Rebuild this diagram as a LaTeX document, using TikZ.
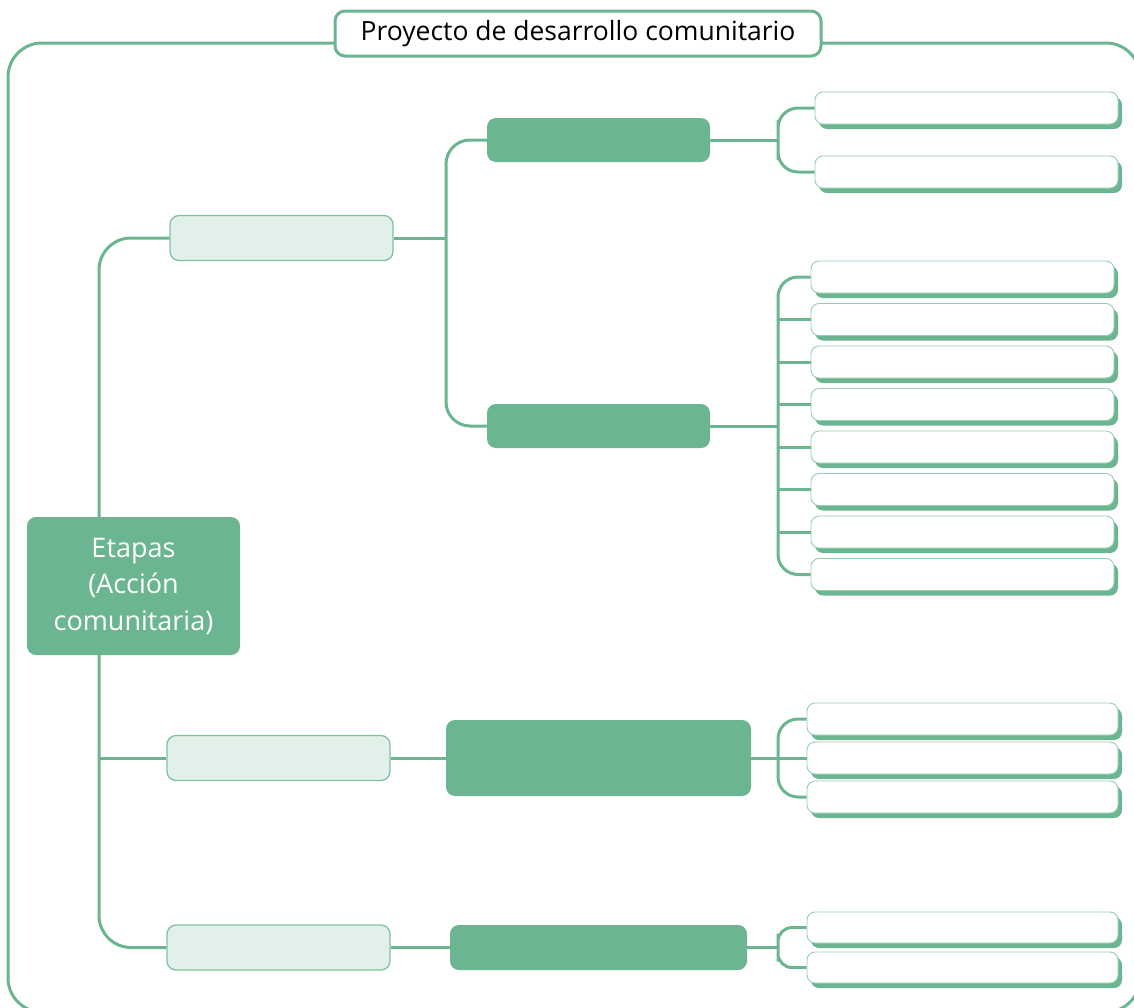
\documentclass[tikz,border=0pt]{standalone}
\usepackage{fontspec}
\setmainfont{Open Sans}
\usepackage{tikz}
\usetikzlibrary{positioning,shadows}
\definecolor{mint}{HTML}{6BB690}
\definecolor{pale}{HTML}{E1F0E8}
\definecolor{rim}{HTML}{7DC29F}

\begin{document}
\begin{tikzpicture}[x=1pt,y=-1pt,node distance=42.5pt,
                    link/.style={draw=mint,line width=3pt,rounded corners=20pt},
                    title node/.style={draw=mint,line width=3pt,fill=white,rounded corners=10pt,
                      minimum width=486pt,minimum height=45pt,font=\fontsize{26.5}{33}\selectfont},
                    root node/.style={fill=mint,rounded corners=9pt,minimum width=213pt,minimum height=138pt,
                      text=white,align=center,font=\fontsize{27}{36.5}\selectfont},
                    stage node/.style={draw=rim,line width=1.3pt,fill=pale,rounded corners=9pt,
                      minimum width=223pt,minimum height=45pt},
                    dark node/.style={fill=mint,rounded corners=9pt,minimum width=223pt,minimum height=44pt},
                    leaf node/.style={draw=rim!80,line width=0.9pt,fill=white,rounded corners=8pt,
                      minimum width=303pt,minimum height=32pt,inner sep=0pt,
                      drop shadow={shadow xshift=4pt,shadow yshift=-5pt,fill=mint,opacity=1}}]
  \useasboundingbox (0,0) rectangle (1134,1007);

  % frame and title
  \draw[draw=mint,line width=3pt,rounded corners=34pt] (8,43) rectangle (1140,1012);
  \node[title node] (title) at (578,33.5) {Proyecto de desarrollo comunitario};

  % stages
  \node[stage node] (s1) at (281.5,238) {};
  \node[stage node] (s2) at (278.5,758) {};
  \node[stage node] (s3) at (278.5,947.5) {};

  \node[dark node] (d1) at (598.5,140) {};
  \node[dark node] (d2) at (598.5,426) {};
  \node[dark node,minimum width=305pt,minimum height=76pt] (d3) at (598.5,758) {};
  \node[dark node,minimum width=297pt,minimum height=45pt] (d4) at (598.5,947.5) {};

  % leaves
  \node[leaf node] (c1) at (966.5,108) {};
  \node[leaf node] (c2) at (966.5,172) {};

  \node[leaf node] (b1) at (962.5,277) {};
  \node[leaf node] (b2) [below of=b1] {};
  \node[leaf node] (b3) [below of=b2] {};
  \node[leaf node] (b4) [below of=b3] {};
  \node[leaf node] (b5) [below of=b4] {};
  \node[leaf node] (b6) [below of=b5] {};
  \node[leaf node] (b7) [below of=b6] {};
  \node[leaf node] (b8) [below of=b7] {};

  \node[leaf node,minimum width=311pt] (e1) at (962.5,719) {};
  \node[leaf node,minimum width=311pt] (e2) [below of=e1,node distance=39pt] {};
  \node[leaf node,minimum width=311pt] (e3) [below of=e2,node distance=39pt] {};

  \node[leaf node,minimum width=311pt,minimum height=31pt] (f1) at (962.5,927.5) {};
  \node[leaf node,minimum width=311pt,minimum height=31pt] (f2) at (962.5,967.5) {};

  % junctions
  \coordinate (sp) at (99,600);
  \coordinate (j0) at (446,238);
  \coordinate (j1) at (778,140);
  \coordinate (j2) at (778,426);
  \coordinate (j3) at (778,758);
  \coordinate (j4) at (778,947.5);

  % links
  \draw[link,rounded corners=32pt] (s1.west) -| (sp) |- (s3.west);
  \draw[link] (sp |- s2.west) -- (s2.west);
  \draw[link] (s1.east) -- (j0);
  \draw[link,rounded corners=24pt] (d1.west) -| (j0) |- (d2.west);
  \draw[link] (s2.east) -- (d3.west);
  \draw[link] (s3.east) -- (d4.west);

  \draw[link] (d1.east) -- (j1);
  \draw[link] (c1.west) -| (j1) |- (c2.west);

  \draw[link] (d2.east) -- (j2);
  \draw[link] (b1.west) -| (j2) |- (b8.west);
  \foreach \n in {b2,b3,b4,b5,b6,b7}
    \draw[link] (j2 |- \n.west) -- (\n.west);

  \draw[link] (d3.east) -- (e2.west);
  \draw[link] (e1.west) -| (j3) |- (e3.west);

  \draw[link] (d4.east) -- (j4);
  \draw[link,rounded corners=14pt] (f1.west) -| (j4) |- (f2.west);

  % root on top of the spine
  \node[root node] (et) at (133.5,586) {Etapas\\(Acción\\comunitaria)};
\end{tikzpicture}
\end{document}
